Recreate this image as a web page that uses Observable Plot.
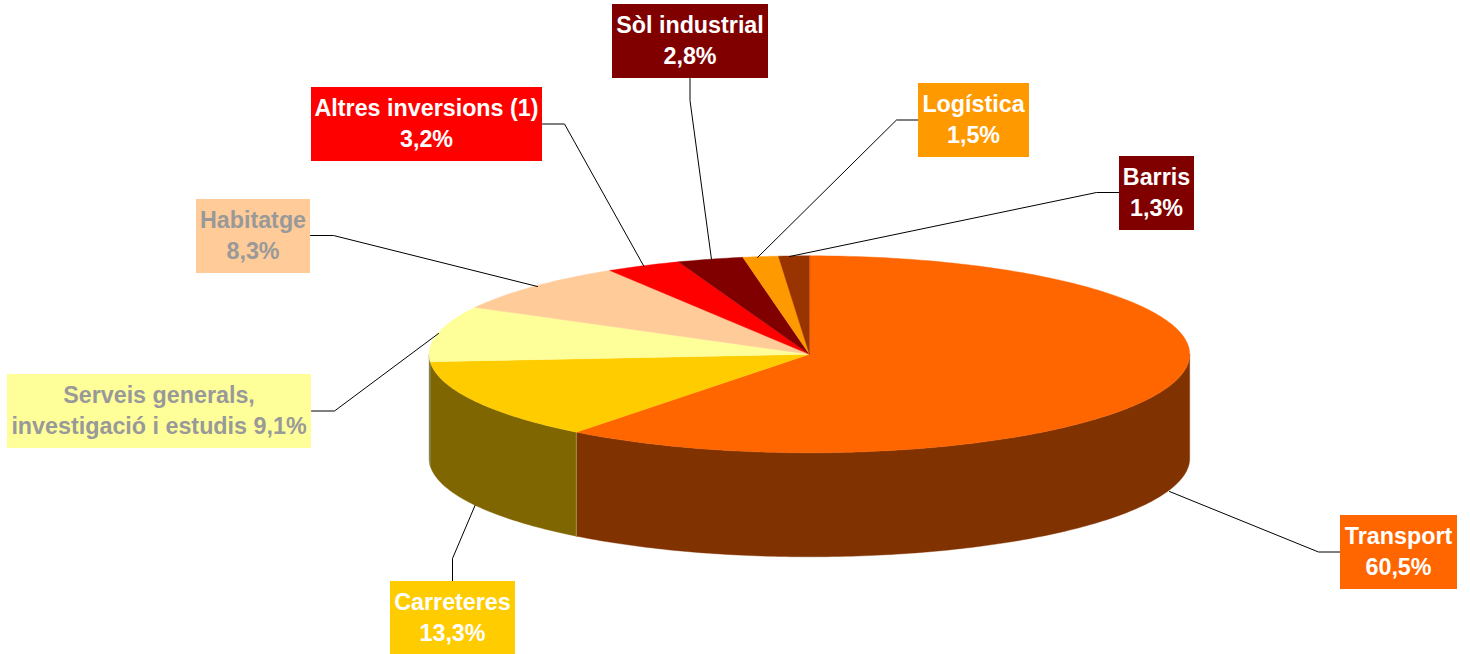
<!DOCTYPE html>
<html>
<head>
<meta charset="utf-8">
<style>html,body{margin:0;padding:0;background:#fff;overflow:hidden}svg{display:block}</style>
<script src="https://cdn.jsdelivr.net/npm/d3@7"></script>
<script src="https://cdn.jsdelivr.net/npm/@observablehq/plot@0.6"></script>
</head>
<body>
<div id="chart"></div>
<script>
// Data (percent share, clockwise from 12 o'clock)
const categories = ["Transport","Carreteres","Serveis generals","Habitatge","Altres inversions (1)","Sòl industrial","Logística","Barris"];
const shares = [60.5,13.3,9.1,8.3,3.2,2.8,1.5,1.3];
const labelTexts = ["Transport\n60,5%","Carreteres\n13,3%","Serveis generals,\ninvestigació i estudis 9,1%","Habitatge\n8,3%","Altres inversions (1)\n3,2%","Sòl industrial\n2,8%","Logística\n1,5%","Barris\n1,3%"];

// Styles
const topColours = ["#FF6600","#FFCC00","#FFFF99","#FFCC99","#FF0000","#800000","#FF9900","#993300"];
const sideColours = ["#803300","#806600","#80804D","#80664D","#800000","#400000","#804D00","#4D1A00"];
const labelColours = ["#FF6600","#FFCC00","#FFFF99","#FFCC99","#FF0000","#800000","#FF9900","#800000"];
const textColours = ["#fff","#fff","#999999","#999999","#fff","#fff","#fff","#fff"];

// Layout (pixels, because the x and y scales here are the page itself)
const pie = {cx: 808.9, cy: 353.8, rx: 380.3, ry: 98.5, depth: 104};
const boxes = [[1340,1457,515,589],[390,515,581,655],[7,311,374,448],[196,310,199,273],[311,542,87,161],[612,768,4,78],[918,1029,83,157],[1119,1194,156,230]];
const leaders = [
  [[1340,551.5],[1318,551.5],[1169,491]],
  [[452,581],[452,558],[474.5,505]],
  [[311,410.5],[334,410.5],[438,333]],
  [[310,235],[333,235],[537,286]],
  [[542,123.5],[564,123.5],[643.5,266]],
  [[689.5,78],[689.5,100],[711,259]],
  [[918,119.5],[896,119.5],[757,257]],
  [[1119,192],[1096,192],[789,256]]
];

// Slice angles come from the shares
const rad = p => p / 100 * 2 * Math.PI;
const px = a => pie.cx + pie.rx * Math.sin(a);
const py = a => pie.cy - pie.ry * Math.cos(a);
let acc = 0;
const slices = categories.map((name, i) => {
  const start = acc; acc += shares[i];
  return {name, start, end: acc, top: topColours[i], side: sideColours[i]};
});
const arc = (a0, a1) => {
  const n = Math.max(2, Math.ceil((a1 - a0) / 0.25));
  return d3.range(n + 1).map(k => rad(a0 + (a1 - a0) * k / n));
};

const topRows = slices.flatMap(s => [
  {k: s.name, c: s.top, x: pie.cx, y: pie.cy},
  ...arc(s.start, s.end).map(a => ({k: s.name, c: s.top, x: px(a), y: py(a)}))
]);
const sideRows = slices.flatMap(s => {
  const a0 = Math.max(s.start, 25), a1 = Math.min(s.end, 75);
  if (a1 <= a0) return [];
  const rim = arc(a0, a1);
  return [
    ...rim.map(a => ({k: s.name, c: s.side, x: px(a), y: py(a)})),
    ...rim.slice().reverse().map(a => ({k: s.name, c: s.side, x: px(a), y: py(a) + pie.depth}))
  ];
});
// The pale seam where the two front walls meet
const seamAngle = rad(slices[0].end);
const seamRows = [
  {x: px(seamAngle), y: py(seamAngle)},
  {x: px(seamAngle), y: py(seamAngle) + pie.depth}
];
const leaderRows = leaders.flatMap((pts, i) => pts.map(([x, y]) => ({k: categories[i], x, y})));
const labelRows = categories.map((name, i) => ({
  name, text: labelTexts[i], fill: labelColours[i], ink: textColours[i],
  x1: boxes[i][0], x2: boxes[i][1], y1: boxes[i][2], y2: boxes[i][3]
}));

const chart = Plot.plot({
  width: 1470, height: 654,
  margin: 0,
  x: {domain: [0, 1470], range: [0, 1470], axis: null},
  y: {domain: [0, 654], range: [0, 654], axis: null},
  style: {background: "#fff", fontFamily: "'Liberation Sans', Arial, sans-serif"},
  marks: [
    Plot.line(sideRows, {x: "x", y: "y", z: "k", fill: "c", stroke: "c", strokeWidth: 0.4, curve: "linear-closed"}),
    Plot.line(seamRows, {x: "x", y: "y", stroke: "#A08C50", strokeWidth: 1}),
    Plot.line(topRows, {x: "x", y: "y", z: "k", fill: "c", stroke: "c", strokeWidth: 0.4, curve: "linear-closed"}),
    Plot.line(leaderRows, {x: "x", y: "y", z: "k", stroke: "#000", strokeWidth: 1, strokeLinejoin: "miter"}),
    Plot.rect(labelRows, {x1: "x1", x2: "x2", y1: "y1", y2: "y2", fill: "fill"}),
    Plot.text(labelRows, {
      x: d => (d.x1 + d.x2) / 2 - 0.5, y: d => (d.y1 + d.y2) / 2,
      text: "text", fill: "ink", fontSize: 23.3, fontWeight: "bold", lineHeight: 1.3, lineAnchor: "middle", dy: -2.6
    })
  ]
});
document.getElementById("chart").append(chart);
</script>
</body>
</html>
